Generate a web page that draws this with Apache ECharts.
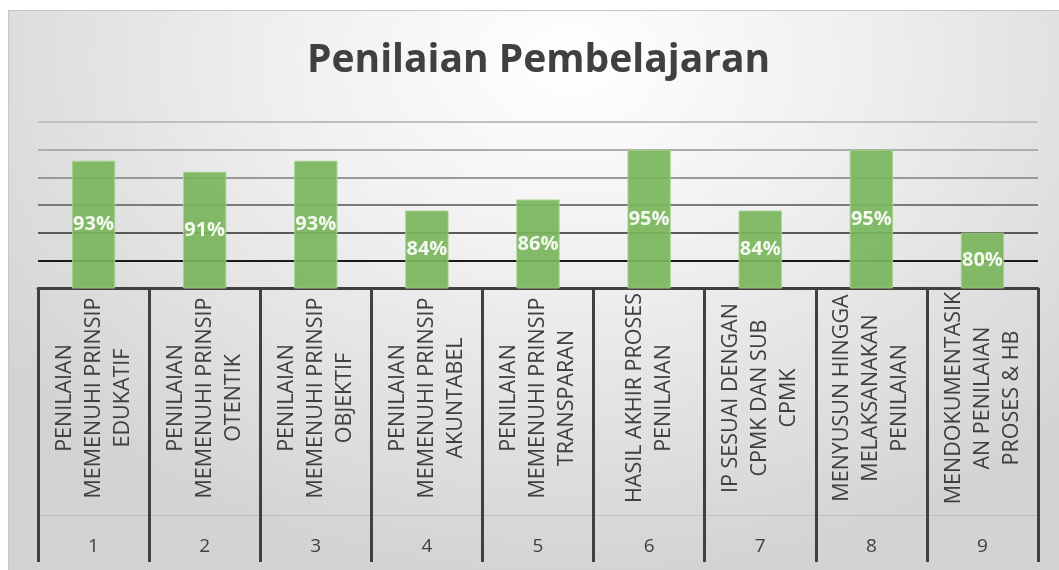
<!DOCTYPE html>
<html>
<head>
<meta charset="utf-8">
<script src="https://cdn.jsdelivr.net/npm/echarts@6/dist/echarts.min.js"></script>
<style>
    html, body { margin: 0; padding: 0; background: #ffffff; }
    #bg {
        position: absolute; left: 8px; top: 10px; width: 1100px; height: 600px;
        border: 1px solid #c6c6c6;
        background: radial-gradient(ellipse 700px 520px at 560px 50px, #ffffff 0%, #f0f0f0 40%, #d3d3d3 100%);
    }
    #chart { position: absolute; left: 0; top: 0; width: 1059px; height: 570px; }
</style>
</head>
<body>
<div id="bg"></div>
<div id="chart"></div>
<script>
    // data
    var categories = [
        'PENILAIAN\nMEMENUHI PRINSIP\nEDUKATIF',
        'PENILAIAN\nMEMENUHI PRINSIP\nOTENTIK',
        'PENILAIAN\nMEMENUHI PRINSIP\nOBJEKTIF',
        'PENILAIAN\nMEMENUHI PRINSIP\nAKUNTABEL',
        'PENILAIAN\nMEMENUHI PRINSIP\nTRANSPARAN',
        'HASIL AKHIR PROSES\nPENILAIAN',
        'IP SESUAI DENGAN\nCPMK DAN SUB\nCPMK',
        'MENYUSUN HINGGA\nMELAKSANAKAN\nPENILAIAN',
        'MENDOKUMENTASIK\nAN PENILAIAN\nPROSES & HB'
    ]
    var numbers = ['1', '2', '3', '4', '5', '6', '7', '8', '9']
    var values = [93, 91, 93, 84, 86, 95, 84, 95, 80]

    var textColor = '#404040'
    var font = 'Open Sans'

    var myChart = echarts.init(document.getElementById('chart'))
    var option = {
        backgroundColor: 'transparent',
        textStyle: { fontFamily: font },
        title: {
            text: 'Penilaian Pembelajaran',
            left: 302,
            top: 36,
            textStyle: {
                color: textColor,
                fontSize: 39,
                fontWeight: 'bold',
                fontFamily: font
            }
        },
        grid: {
            left: 38,
            right: 21,
            top: 122,
            bottom: 282
        },
        xAxis: [{
            type: 'category',
            data: categories,
            position: 'bottom',
            axisLine: {
                lineStyle: { color: '#404040', width: 3 }
            },
            axisTick: {
                show: true,
                interval: 0,
                length: 274,
                lineStyle: { color: '#404040', width: 3 }
            },
            axisLabel: {
                interval: 0,
                rotate: 90,
                align: 'center',
                verticalAlign: 'middle',
                margin: 110,
                color: textColor,
                fontSize: 21.5,
                lineHeight: 29,
                fontFamily: font
            }
        }, {
            type: 'category',
            data: numbers,
            position: 'bottom',
            offset: 227,
            axisLine: {
                lineStyle: { color: 'rgba(0,0,0,0.1)', width: 1 }
            },
            axisTick: { show: false },
            axisLabel: {
                interval: 0,
                margin: 22,
                color: textColor,
                fontSize: 19,
                fontFamily: font
            }
        }],
        yAxis: {
            type: 'value',
            min: 70,
            max: 100,
            interval: 5,
            axisLine: { show: false },
            axisTick: { show: false },
            axisLabel: { show: false },
            splitLine: {
                lineStyle: {
                    width: 2,
                    color: ['#404040', '#1a1a1a', '#595959', '#7a7a7a', '#999999', '#adadad', '#bfbfbf']
                }
            }
        },
        series: [{
            type: 'bar',
            xAxisIndex: 0,
            data: values,
            barWidth: '39%',
            itemStyle: {
                color: '#7ab55c',
                opacity: 0.92,
                borderColor: '#a6d38d',
                borderWidth: 1
            },
            label: {
                show: true,
                position: 'inside',
                formatter: '{c}%',
                color: '#ffffff',
                fontSize: 20,
                fontWeight: 'bold',
                fontFamily: font
            }
        }]
    }
    myChart.setOption(option)
</script>
</body>
</html>
